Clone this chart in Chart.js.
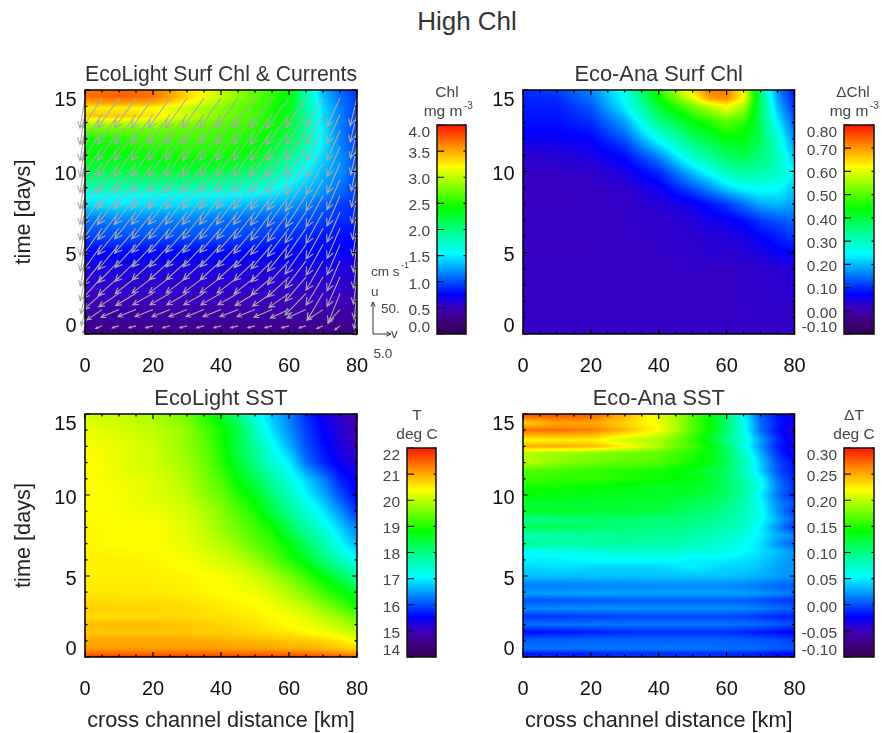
<!DOCTYPE html>
<html>
<head>
<meta charset="utf-8">
<title>High Chl</title>
<script src="https://cdn.jsdelivr.net/npm/chart.js@4"></script>
<style>
body { margin: 0; background: #fff; width: 882px; height: 733px; overflow: hidden; position: relative; }
canvas { position: absolute; }
#mainTitle { position: absolute; left: 367px; width: 200px; top: 6px; text-align: center; font: 26px "Liberation Sans"; color: #333; }
</style>
</head>
<body>
<div id="mainTitle">High Chl</div>
<canvas id="chlPanel" width="420" height="325" style="left:0;top:56px"></canvas>
<canvas id="chlBar" width="110" height="270" style="left:377px;top:75px"></canvas>
<canvas id="anaChlPanel" width="380" height="325" style="left:438px;top:56px"></canvas>
<canvas id="anaChlBar" width="100" height="270" style="left:784px;top:75px"></canvas>
<canvas id="sstPanel" width="380" height="353" style="left:0;top:380px"></canvas>
<canvas id="sstBar" width="110" height="270" style="left:347px;top:398px"></canvas>
<canvas id="anaSstPanel" width="380" height="353" style="left:438px;top:380px"></canvas>
<canvas id="anaSstBar" width="100" height="270" style="left:784px;top:398px"></canvas>
<script>
// value tables, rows go from t=0 upward
const chlDist = [0, 10, 20, 30, 40, 50, 60, 65, 70, 75, 80];
const chlTimes = [0, 1, 2, 3, 4, 5, 6, 7, 8, 8.5, 9, 10, 11, 12, 12.6, 13, 13.4, 13.9, 14.2, 14.6, 15.1];
const chlValues = [
  [.26, .26, .26, .26, .26, .26, .26, .26, .26, .26, .26],
  [.38, .38, .38, .38, .38, .38, .38, .38, .38, .38, .36],
  [.48, .48, .48, .48, .48, .48, .48, .48, .48, .48, .46],
  [.56, .56, .56, .56, .56, .56, .56, .56, .56, .56, .54],
  [.63, .63, .63, .63, .63, .63, .63, .63, .63, .63, .6],
  [.76, .76, .76, .76, .76, .76, .76, .76, .76, .74, .7],
  [.95, 1, 1, 1, 1, .95, .9, .86, .82, .8, .78],
  [1.12, 1.15, 1.15, 1.15, 1.1, 1.05, 1.02, .98, .95, .9, .85],
  [1.45, 1.5, 1.45, 1.45, 1.4, 1.32, 1.25, 1.15, 1.05, .95, .9],
  [1.56, 1.56, 1.52, 1.52, 1.52, 1.5, 1.38, 1.28, 1.18, 1.05, .95],
  [1.85, 1.85, 1.85, 1.85, 1.8, 1.7, 1.48, 1.35, 1.25, 1.1, .95],
  [2.2, 2.2, 2.25, 2.25, 2.2, 2.1, 1.75, 1.52, 1.32, 1.2, 1],
  [2.38, 2.38, 2.42, 2.45, 2.45, 2.35, 2, 1.72, 1.42, 1.2, 1],
  [2.45, 2.5, 2.6, 2.6, 2.55, 2.45, 2.2, 1.88, 1.5, 1.15, .95],
  [2.75, 2.75, 2.75, 2.7, 2.62, 2.5, 2.25, 1.9, 1.48, 1.15, .95],
  [3, 3, 3, 2.85, 2.7, 2.55, 2.3, 1.9, 1.45, 1.15, .95],
  [3.4, 3.4, 3.3, 3.05, 2.8, 2.6, 2.3, 1.9, 1.45, 1.15, .95],
  [3.25, 3.25, 3.2, 3, 2.8, 2.6, 2.35, 1.9, 1.45, 1.15, .95],
  [3.5, 3.55, 3.5, 3.2, 2.9, 2.65, 2.35, 1.9, 1.4, 1.12, .95],
  [3.7, 3.75, 3.7, 3.35, 3, 2.7, 2.4, 1.85, 1.35, 1.1, .95],
  [3.65, 3.72, 3.68, 3.3, 3, 2.7, 2.4, 1.9, 1.3, 1.05, .9]
];

const anaChlDist = [0, 10, 20, 30, 40, 50, 55, 60, 65, 70, 75, 80];
const anaChlTimes = [0, 4, 5, 6, 7, 8, 9, 10, 11, 12, 13, 14, 14.5, 15.1];
const anaChlValues = [
  [.02, .02, .02, .02, .02, .02, .02, .02, .02, .02, .02, .02],
  [.018, .018, .018, .018, .018, .02, .02, .02, .022, .025, .03, .035],
  [.015, .015, .015, .018, .02, .025, .03, .03, .035, .045, .065, .07],
  [.018, .018, .018, .02, .022, .03, .035, .04, .05, .07, .09, .11],
  [.018, .018, .018, .02, .025, .035, .055, .06, .08, .11, .13, .14],
  [.015, .015, .018, .02, .035, .06, .085, .11, .15, .19, .2, .18],
  [.015, .015, .02, .025, .06, .13, .17, .22, .25, .26, .25, .21],
  [.02, .02, .025, .05, .1, .21, .26, .31, .33, .32, .3, .24],
  [.03, .035, .05, .08, .17, .3, .34, .38, .39, .36, .3, .2],
  [.06, .06, .07, .13, .26, .37, .4, .43, .43, .38, .28, .16],
  [.08, .08, .1, .18, .34, .43, .46, .5, .47, .38, .24, .13],
  [.09, .09, .13, .24, .41, .52, .58, .62, .56, .37, .2, .1],
  [.095, .1, .15, .25, .44, .6, .7, .71, .62, .37, .18, .09],
  [.1, .12, .17, .27, .47, .66, .72, .73, .62, .36, .16, .08]
];

const sstDist = [0, 10, 20, 30, 35, 40, 45, 50, 55, 60, 65, 70, 75, 80];
const sstTimes = [0, .15, .5, 1, 1.5, 2, 2.5, 3, 4, 5, 6, 7, 8, 9, 10, 11, 12, 13, 14, 15.1];
const sstValues = [
  [21.85, 21.85, 21.85, 21.85, 21.85, 21.85, 21.85, 21.85, 21.85, 21.85, 21.8, 21.75, 21.7, 21.6],
  [21.5, 21.5, 21.5, 21.5, 21.5, 21.5, 21.5, 21.5, 21.5, 21.5, 21.45, 21.4, 21.3, 21.2],
  [21.1, 21.1, 21.1, 21.1, 21.1, 21.1, 21.08, 21.05, 21.03, 21, 20.95, 20.9, 20.8, 20.7],
  [21, 21, 21, 21, 21, 20.95, 20.9, 20.9, 20.85, 20.8, 20.75, 20.7, 20.55, 20.35],
  [20.8, 20.8, 20.8, 20.8, 20.75, 20.75, 20.7, 20.65, 20.6, 20.55, 20.45, 20.35, 20.2, 20],
  [20.85, 20.85, 20.85, 20.8, 20.75, 20.7, 20.65, 20.6, 20.5, 20.4, 20.3, 20.15, 19.95, 19.7],
  [20.65, 20.65, 20.65, 20.65, 20.6, 20.6, 20.55, 20.5, 20.42, 20.35, 20.2, 20, 19.75, 19.4],
  [20.75, 20.72, 20.7, 20.65, 20.6, 20.55, 20.5, 20.45, 20.35, 20.2, 20.05, 19.75, 19.4, 19],
  [20.55, 20.55, 20.55, 20.5, 20.45, 20.4, 20.35, 20.3, 20.15, 19.9, 19.6, 19.2, 18.85, 18.5],
  [20.5, 20.5, 20.5, 20.45, 20.4, 20.35, 20.25, 20.1, 19.85, 19.55, 19.15, 18.75, 18.3, 17.8],
  [20.5, 20.5, 20.45, 20.35, 20.25, 20.15, 20, 19.75, 19.4, 19, 18.6, 18.1, 17.6, 17.1],
  [20.45, 20.4, 20.4, 20.25, 20.1, 19.95, 19.7, 19.4, 19.1, 18.75, 18.2, 17.7, 17.1, 16.6],
  [20.45, 20.4, 20.4, 20.2, 20, 19.75, 19.5, 19.2, 18.85, 18.3, 17.8, 17.3, 16.8, 16.3],
  [20.4, 20.35, 20.3, 20.1, 19.9, 19.65, 19.3, 18.95, 18.4, 17.9, 17.4, 16.95, 16.4, 15.8],
  [20.45, 20.35, 20.2, 20, 19.7, 19.45, 19, 18.65, 18.1, 17.6, 17.05, 16.6, 16, 15.5],
  [20.4, 20.3, 20.2, 19.9, 19.6, 19.25, 18.75, 18.3, 17.8, 17.3, 16.8, 16.3, 15.7, 15.4],
  [20.45, 20.25, 20.1, 19.8, 19.5, 19.05, 18.5, 18, 17.4, 17, 16.2, 15.75, 15.4, 15.2],
  [20.35, 20.25, 20.1, 19.7, 19.4, 18.95, 18.4, 17.8, 17.2, 16.6, 16, 15.6, 15.3, 15],
  [20.3, 20.15, 20, 19.7, 19.3, 18.9, 18.4, 17.6, 16.9, 16.4, 15.9, 15.5, 15.2, 14.9],
  [20.1, 20, 19.85, 19.45, 19, 18.6, 18, 17.2, 16.7, 16.3, 15.8, 15.4, 15.1, 14.8]
];

const anaSstDist = [0, 10, 20, 30, 40, 45, 50, 55, 60, 65, 70, 75, 80];
const anaSstTimes = [0, .2, .5, 1.05, 1.55, 2, 2.5, 3, 3.5, 3.9, 4.4, 5, 5.5, 6, 6.5, 7, 7.5, 8, 8.5, 9, 9.5, 10, 10.5, 11, 11.5, 12, 12.6, 13, 13.4, 14, 14.45, 15.1];
const anaSstValues = [
  [-.01, -.01, -.008, -.006, -.006, -.006, -.006, -.006, -.008, -.01, -.012, -.014, -.015],
  [-.02, -.018, -.016, -.012, -.012, -.012, -.012, -.012, -.012, -.014, -.018, -.022, -.024],
  [.012, .012, .012, .012, .012, .012, .012, .012, .01, .01, .008, .005, .002],
  [.005, .005, .006, .006, .006, .006, .006, .006, .005, .004, .002, 0, -.005],
  [-.022, -.02, -.016, -.012, -.01, -.01, -.01, -.01, -.01, -.014, -.018, -.022, -.026],
  [.01, .012, .012, .012, .012, .012, .012, .012, .012, .01, .008, .005, 0],
  [-.008, -.008, -.005, -.003, -.002, -.002, -.002, -.002, -.002, -.004, -.008, -.012, -.016],
  [.018, .02, .02, .02, .02, .02, .02, .02, .02, .018, .015, .01, .005],
  [0, .001, .003, .005, .005, .005, .005, .005, .005, .004, 0, -.005, -.01],
  [.025, .025, .026, .026, .026, .026, .026, .026, .026, .025, .022, .018, .012],
  [.014, .014, .016, .017, .018, .018, .018, .018, .018, .016, .012, .008, .002],
  [.035, .035, .035, .035, .036, .036, .036, .036, .036, .034, .03, .025, .02],
  [.04, .045, .04, .04, .04, .045, .05, .045, .04, .04, .035, .025, .02],
  [.05, .05, .055, .055, .055, .055, .05, .05, .05, .045, .04, .03, .02],
  [.055, .06, .065, .07, .07, .07, .065, .065, .06, .055, .045, .035, .02],
  [.095, .09, .09, .09, .085, .085, .08, .075, .07, .06, .045, .02, .005],
  [.08, .085, .09, .095, .095, .09, .085, .08, .075, .065, .05, .03, .015],
  [.115, .115, .11, .105, .1, .1, .095, .09, .085, .075, .05, .02, -.01],
  [.095, .1, .105, .105, .105, .105, .1, .095, .09, .08, .06, .03, .005],
  [.13, .13, .125, .125, .12, .115, .11, .105, .095, .08, .06, .02, -.01],
  [.125, .125, .125, .125, .125, .12, .115, .11, .1, .085, .055, .02, 0],
  [.14, .135, .135, .13, .13, .13, .125, .12, .11, .09, .05, .01, -.015],
  [.145, .145, .14, .135, .13, .13, .13, .125, .11, .09, .06, .015, -.01],
  [.16, .155, .155, .15, .145, .14, .135, .125, .11, .085, .055, .01, -.015],
  [.165, .16, .155, .15, .145, .14, .135, .125, .11, .08, .04, 0, -.02],
  [.2, .185, .175, .17, .165, .155, .145, .135, .115, .085, .04, 0, -.02],
  [.195, .19, .185, .175, .17, .16, .15, .135, .11, .075, .03, -.01, -.035],
  [.25, .25, .245, .225, .195, .175, .16, .14, .11, .065, .02, -.015, -.03],
  [.22, .225, .225, .205, .19, .175, .155, .13, .1, .07, .025, -.01, -.035],
  [.27, .27, .265, .245, .22, .195, .165, .14, .105, .06, .01, -.02, -.045],
  [.235, .25, .25, .235, .215, .195, .165, .14, .11, .06, .01, -.015, -.03],
  [.295, .29, .285, .25, .21, .19, .165, .145, .11, .05, 0, -.02, -.035]
];

// current arrows, tail grid in km and days, velocities in cm/s
const quiverDist = [0, 5, 10, 15, 20, 25, 30, 35, 40, 45, 50, 55, 60, 65, 70, 75, 80];
const quiverTimes = [.5, 1.5, 2.5, 3.5, 4.5, 5.5, 6.5, 7.5, 8.5, 9.5, 10.5, 11.5, 12.5, 13.5, 14.5];
const quiverU = [
  [-12, -4, -3, -3, -3, -3, -3, -3, -3, -3, -3, -3, -3, -3, -4, -6, -15],
  [-25, -16, -12, -11, -11, -11, -11, -11, -11, -11, -11, -12, -13, -13, -16, -20, -30],
  [-32, -25, -21, -19, -18, -18, -18, -18, -18, -18, -19, -20, -22, -34, -42, -47, -40],
  [-37, -33, -29, -26, -25, -25, -25, -25, -25, -25, -26, -28, -31, -38, -44, -46, -42],
  [-40, -38, -34, -32, -30, -30, -30, -30, -30, -30, -31, -33, -37, -43, -46, -47, -43],
  [-42, -41, -39, -36, -35, -35, -35, -35, -35, -35, -36, -38, -42, -46, -48, -47, -43],
  [-43, -43, -41, -39, -38, -38, -38, -38, -38, -38, -39, -41, -44, -47, -48, -47, -43],
  [-44, -44, -43, -42, -42, -42, -42, -42, -42, -42, -42, -44, -46, -48, -49, -47, -43],
  [-45, -45, -45, -45, -45, -45, -45, -45, -45, -45, -45, -46, -48, -49, -49, -47, -43],
  [-46, -46, -46, -46, -46, -46, -46, -46, -46, -46, -46, -47, -48, -49, -49, -47, -43],
  [-46, -47, -47, -47, -47, -47, -47, -47, -47, -47, -47, -47, -48, -49, -49, -47, -43],
  [-47, -47, -47, -47, -47, -47, -47, -47, -47, -47, -47, -47, -48, -48, -48, -46, -43],
  [-47, -47, -47, -47, -47, -47, -47, -47, -47, -47, -47, -47, -47, -47, -47, -46, -43],
  [-47, -47, -47, -47, -47, -47, -47, -47, -47, -47, -47, -47, -47, -47, -46, -45, -43],
  [-47, -47, -47, -47, -47, -47, -47, -47, -47, -47, -47, -47, -47, -46, -45, -44, -43]
];
const quiverV = [
  [-.6, -1.7, -1.9, -2, -2, -2, -2, -2, -2, -2, -2, -2, -2, -1.9, -1.7, -1.4, -.3],
  [-1, -4.2, -5, -5, -5, -5, -5, -5, -5, -5, -5, -5, -5.2, -5.3, -4.4, -3.3, -.8],
  [-1.1, -5, -5.6, -5.6, -5.6, -5.6, -5.6, -5.6, -5.6, -5.6, -5.5, -5.4, -5.6, -5.8, -4.4, -3.3, -.8],
  [-1.3, -5.3, -5.8, -5.8, -5.8, -5.8, -5.8, -5.8, -5.8, -5.8, -5.8, -5.8, -6, -5.8, -4.7, -3.6, -1],
  [-1.3, -5.3, -5.8, -5.8, -5.8, -5.8, -5.8, -5.8, -5.8, -5.8, -5.8, -5.8, -6, -5.8, -4.7, -3.6, -1],
  [-1.3, -5.3, -5.8, -5.8, -5.8, -5.8, -5.8, -5.8, -5.8, -5.8, -5.8, -5.8, -6, -5.8, -4.7, -3.6, -1],
  [-1.4, -5.4, -5.9, -5.9, -5.9, -5.9, -5.9, -5.9, -5.9, -5.9, -5.9, -5.9, -6, -5.8, -4.7, -3.6, -1.2],
  [-1.4, -5.4, -5.9, -5.9, -5.9, -5.9, -5.9, -5.9, -5.9, -5.9, -5.9, -5.9, -6, -5.8, -4.7, -3.6, -1.2],
  [-1.4, -5.5, -6, -6, -6, -6, -6, -6, -6, -6, -6, -6, -6.1, -5.7, -4.7, -3.6, -1.4],
  [-1.4, -5.5, -6, -6, -6, -6, -6, -6, -6, -6, -6, -6, -6.1, -5.7, -4.7, -3.6, -1.5],
  [-1.4, -5.5, -6, -6, -6, -6, -6, -6, -6, -6, -6, -6, -6.1, -5.7, -4.7, -3.6, -1.6],
  [-1.4, -5.5, -6, -6, -6, -6, -6, -6, -6, -6, -6, -6, -6.2, -5.6, -4.7, -3.6, -1.7],
  [-1.4, -5.5, -6, -6, -6, -6, -6, -6, -6, -6, -6, -6, -6.2, -5.6, -4.7, -3.6, -1.8],
  [-1.4, -5.5, -6, -6, -6, -6, -6, -6, -6, -6, -6, -6, -6.2, -5.6, -4.7, -3.6, -1.9],
  [-1.4, -5.5, -6, -6, -6, -6, -6, -6, -6, -6, -6, -6, -6.2, -5.6, -4.7, -3.6, -1.9]
];

// tick labels
const timeTicks = [0, 5, 10, 15];
const distTicks = [0, 20, 40, 60, 80];
const chlBarTicks = [0, .5, 1, 1.5, 2, 2.5, 3, 3.5, 4];
const anaChlBarTicks = [-.1, 0, .1, .2, .3, .4, .5, .6, .7, .8];
const sstBarTicks = [14, 15, 16, 17, 18, 19, 20, 21, 22];
const anaSstBarTicks = [-.1, -.05, 0, .05, .1, .15, .2, .25, .3];

// text of the arrow key, in the top left canvas
const keyLabels = [['cm s', 371, 216.5], ['u', 371, 236], ['50.', 381, 253], ['v', 391, 278], ['5.0', 373.5, 298]];

// colour table, position along the bar then r g b
const colorStops = [
  [0, 50, 0, 85], [.06, 65, 0, 125], [.125, 60, 0, 190], [.19, 0, 0, 255],
  [.385, 0, 255, 255], [.5, 0, 255, 130], [.6, 0, 255, 0], [.8, 255, 255, 0],
  [.9, 255, 140, 0], [1, 255, 20, 0]
];

const sans = '"Liberation Sans"';

function colorAt(f) {
  f = Math.max(0, Math.min(1, f));
  let i = 0;
  while (i < colorStops.length - 2 && f > colorStops[i + 1][0]) i++;
  const a = colorStops[i], b = colorStops[i + 1];
  const k = (f - a[0]) / (b[0] - a[0]);
  return [a[1] + (b[1] - a[1]) * k, a[2] + (b[2] - a[2]) * k, a[3] + (b[3] - a[3]) * k];
}

function findCell(arr, v) {
  let i = 0;
  while (i < arr.length - 2 && v > arr[i + 1]) i++;
  return [i, Math.max(0, Math.min(1, (v - arr[i]) / (arr[i + 1] - arr[i])))];
}

// paints the field pixel by pixel, blending between the table's nodes
function paintField(chart, o) {
  const { ctx, chartArea: a, scales } = chart;
  const w = Math.ceil(a.right - a.left), h = Math.ceil(a.bottom - a.top);
  const img = ctx.createImageData(w, h);
  for (let py = 0; py < h; py++) {
    const t = scales.y.getValueForPixel(a.top + py + .5);
    const [r, rk] = o.times ? findCell(o.times, t) : [0, 0];
    for (let px = 0; px < w; px++) {
      let v = t;
      if (o.times) {
        const [c, ck] = findCell(o.dist, scales.x.getValueForPixel(a.left + px + .5));
        const low = o.values[r][c] * (1 - ck) + o.values[r][c + 1] * ck;
        const high = o.values[r + 1][c] * (1 - ck) + o.values[r + 1][c + 1] * ck;
        v = low * (1 - rk) + high * rk;
      }
      const rgb = colorAt((v - o.min) / (o.max - o.min));
      const n = (py * w + px) * 4;
      img.data[n] = rgb[0]; img.data[n + 1] = rgb[1]; img.data[n + 2] = rgb[2]; img.data[n + 3] = 255;
    }
  }
  ctx.putImageData(img, Math.round(a.left), Math.round(a.top));
}

function drawArrow(ctx, x0, y0, x1, y1, barb) {
  const ang = Math.atan2(y0 - y1, x0 - x1);
  ctx.beginPath();
  ctx.moveTo(x0, y0);
  ctx.lineTo(x1, y1);
  ctx.moveTo(x1 + barb * Math.cos(ang - .45), y1 + barb * Math.sin(ang - .45));
  ctx.lineTo(x1, y1);
  ctx.lineTo(x1 + barb * Math.cos(ang + .45), y1 + barb * Math.sin(ang + .45));
  ctx.stroke();
}

// frame plus inward ticks on all four sides and the nudged time labels
function drawPanelAxes(chart) {
  const { ctx, chartArea: a, scales } = chart;
  ctx.save();
  ctx.strokeStyle = '#000';
  ctx.lineWidth = 1.2;
  ctx.beginPath();
  for (let d = 0; d <= 80; d += 5) {
    const x = scales.x.getPixelForValue(d), l = d % 20 === 0 ? 5 : 2.5;
    ctx.moveTo(x, a.bottom); ctx.lineTo(x, a.bottom - l);
    ctx.moveTo(x, a.top); ctx.lineTo(x, a.top + l);
  }
  for (let t = 0; t <= 15; t++) {
    const y = scales.y.getPixelForValue(t), l = t % 5 === 0 ? 5 : 2.5;
    ctx.moveTo(a.left, y); ctx.lineTo(a.left + l, y);
    ctx.moveTo(a.right, y); ctx.lineTo(a.right - l, y);
  }
  ctx.stroke();
  ctx.lineWidth = 1.5;
  ctx.strokeRect(a.left, a.top, a.right - a.left, a.bottom - a.top);
  ctx.fillStyle = '#111';
  ctx.font = '20px ' + sans;
  ctx.textAlign = 'right';
  ctx.textBaseline = 'middle';
  timeTicks.forEach(t => {
    const nudge = t === 15 ? 10 : t === 0 ? -8 : 3;
    ctx.fillText(String(t), a.left - 8.5, scales.y.getPixelForValue(t) + nudge);
  });
  ctx.restore();
}

// 50 cm/s and 5 cm/s reference arrows next to the top left panel
function drawCurrentKey(chart) {
  const { ctx } = chart;
  const ox = 373, oy = 334 - 56;
  ctx.save();
  ctx.strokeStyle = '#333';
  ctx.lineWidth = 1;
  drawArrow(ctx, ox, oy, ox, oy - 50 * .64, 5);
  drawArrow(ctx, ox, oy, ox + 5 * 3.6, oy, 5);
  ctx.fillStyle = '#444';
  ctx.font = '13.5px ' + sans;
  ctx.textAlign = 'left';
  ctx.textBaseline = 'middle';
  keyLabels.forEach(k => ctx.fillText(k[0], k[1], k[2]));
  ctx.font = '9px ' + sans;
  ctx.fillText('-1', 401, 210);
  ctx.restore();
}

function drawBarAxes(chart, o) {
  const { ctx, chartArea: a, scales } = chart;
  ctx.save();
  ctx.strokeStyle = '#111';
  ctx.lineWidth = 1.2;
  ctx.beginPath();
  o.ticks.forEach(v => {
    const y = scales.y.getPixelForValue(v);
    ctx.moveTo(a.left, y); ctx.lineTo(a.left + 7, y);
    ctx.moveTo(a.right, y); ctx.lineTo(a.right - 2.5, y);
  });
  ctx.stroke();
  ctx.lineWidth = 1.5;
  ctx.strokeRect(a.left, a.top, a.right - a.left, a.bottom - a.top);
  ctx.fillStyle = '#444';
  ctx.font = '15.5px ' + sans;
  ctx.textAlign = 'right';
  ctx.textBaseline = 'middle';
  o.ticks.forEach((v, i) => {
    const nudge = i === o.ticks.length - 1 ? 7.5 : i === 0 ? -6 : 2.5;
    ctx.fillText(o.format(v), a.left - 7, scales.y.getPixelForValue(v) + nudge);
  });
  ctx.textAlign = 'center';
  const mid = a.left + o.headDx;
  ctx.fillText(o.head[0], mid, a.top - 32);
  if (o.super) {
    const w = ctx.measureText(o.head[1]).width;
    ctx.fillText(o.head[1], mid - 4, a.top - 13);
    ctx.font = '10px ' + sans;
    ctx.fillText(o.super, mid - 4 + w / 2 + 6, a.top - 19);
  } else {
    ctx.fillText(o.head[1], mid, a.top - 13);
  }
  ctx.restore();
}

const fieldPlugin = {
  id: 'field',
  beforeDatasetsDraw(chart, args, o) { paintField(chart, o); },
  afterDatasetsDraw(chart, args, o) {
    if (o.arrows) {
      const { ctx, scales } = chart;
      ctx.save();
      ctx.strokeStyle = '#ababab';
      ctx.lineWidth = 1.1;
      quiverTimes.forEach((t, r) => quiverDist.forEach((d, c) => {
        const x = scales.x.getPixelForValue(d), y = scales.y.getPixelForValue(t);
        const dx = quiverV[r][c] * 3.6, dy = -quiverU[r][c] * .64;
        drawArrow(ctx, x, y, x + dx, y + dy, .22 * Math.hypot(dx, dy) + 1);
      }));
      ctx.restore();
    }
    if (o.times) drawPanelAxes(chart);
    if (o.arrows) drawCurrentKey(chart);
    if (!o.times) drawBarAxes(chart, o);
  }
};

function makePanel(id, o) {
  const tall = o.xTitle ? 76 : 47;
  return new Chart(document.getElementById(id), {
    type: 'scatter',
    data: { datasets: [{ data: [], pointRadius: 0 }] },
    options: {
      responsive: false,
      animation: false,
      layout: { padding: { right: o.padRight, left: 0, top: 0, bottom: 0 } },
      plugins: {
        legend: { display: false },
        tooltip: { enabled: false },
        title: {
          display: true, text: o.title, color: '#333', fullSize: false,
          font: { family: 'Liberation Sans', size: 21.8, weight: 'normal', lineHeight: '24px' },
          padding: { top: 7, bottom: 3 }
        },
        field: o
      },
      scales: {
        x: {
          type: 'linear', min: 0, max: 80,
          grid: { display: false, drawTicks: false },
          border: { display: false },
          afterBuildTicks(s) { s.ticks = distTicks.map(v => ({ value: v })); },
          ticks: { color: '#111', padding: 20, maxRotation: 0, font: { family: 'Liberation Sans', size: 20 } },
          title: { display: !!o.xTitle, text: o.xTitle, color: '#222', padding: 0, font: { family: 'Liberation Sans', size: 21.7, lineHeight: '24px' } },
          afterFit(s) { s.height = tall; s.paddingLeft = 0; s.paddingRight = 0; }
        },
        y: {
          type: 'linear', min: 0, max: 15,
          grid: { display: false, drawTicks: false },
          border: { display: false },
          ticks: { display: false },
          title: { display: !!o.yTitle, text: o.yTitle, color: '#222', padding: { top: 12, bottom: 0 }, font: { family: 'Liberation Sans', size: 21.7, lineHeight: '24px' } },
          afterFit(s) { s.width = 85; }
        }
      }
    },
    plugins: [fieldPlugin]
  });
}

function makeBar(id, o) {
  new Chart(document.getElementById(id), {
    type: 'scatter',
    data: { datasets: [{ data: [], pointRadius: 0 }] },
    options: {
      responsive: false,
      animation: false,
      layout: { padding: { left: o.left, top: o.top, right: o.right, bottom: o.bottom } },
      plugins: { legend: { display: false }, tooltip: { enabled: false }, field: o },
      scales: {
        x: { type: 'linear', min: 0, max: 1, display: false },
        y: { type: 'linear', min: o.min, max: o.max, display: false }
      }
    },
    plugins: [fieldPlugin]
  });
}

makePanel('chlPanel', { title: 'EcoLight Surf Chl & Currents', yTitle: 'time [days]', dist: chlDist, times: chlTimes, values: chlValues, min: 0, max: 4, arrows: true, padRight: 63 });
makePanel('anaChlPanel', { title: 'Eco-Ana Surf Chl', dist: anaChlDist, times: anaChlTimes, values: anaChlValues, min: -.1, max: .8, padRight: 23.5 });
makePanel('sstPanel', { title: 'EcoLight SST', yTitle: 'time [days]', xTitle: 'cross channel distance [km]', dist: sstDist, times: sstTimes, values: sstValues, min: 14, max: 22, padRight: 23 });
makePanel('anaSstPanel', { title: 'Eco-Ana SST', xTitle: 'cross channel distance [km]', dist: anaSstDist, times: anaSstTimes, values: anaSstValues, min: -.1, max: .3, padRight: 23.5 });

makeBar('chlBar', { ticks: chlBarTicks, min: 0, max: 4, left: 60, right: 21, top: 50, bottom: 11, head: ['Chl', 'mg m'], super: '-3', headDx: 10, format: v => v.toFixed(1) });
makeBar('anaChlBar', { ticks: anaChlBarTicks, min: -.1, max: .8, left: 60, right: 10, top: 50, bottom: 11, head: ['\u0394Chl', 'mg m'], super: '-3', headDx: 9, format: v => v.toFixed(2) });
makeBar('sstBar', { ticks: sstBarTicks, min: 14, max: 22, left: 60, right: 21, top: 50, bottom: 11, head: ['T', 'deg C'], headDx: 10, format: v => String(v) });
makeBar('anaSstBar', { ticks: anaSstBarTicks, min: -.1, max: .3, left: 60, right: 10, top: 50, bottom: 11, head: ['\u0394T', 'deg C'], headDx: 10, format: v => v.toFixed(2) });
</script>
</body>
</html>
